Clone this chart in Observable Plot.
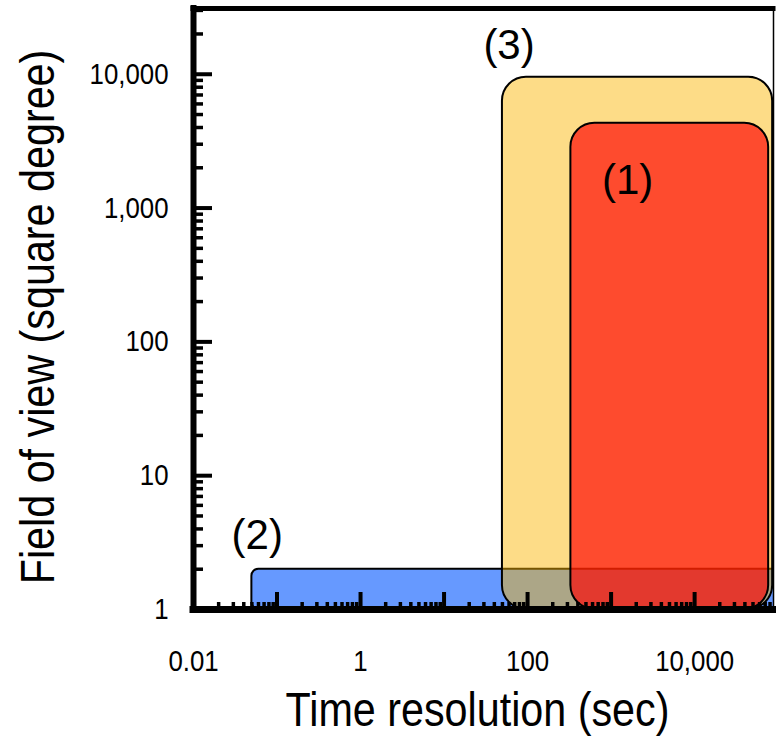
<!DOCTYPE html>
<html>
<head>
<meta charset="utf-8">
<script src="https://cdn.jsdelivr.net/npm/d3@7"></script>
<script src="https://cdn.jsdelivr.net/npm/@observablehq/plot@0.6"></script>
<style>
  body { margin: 0; background: #fff; }
</style>
</head>
<body>
<div id="chart"></div>
<script>
// ---- scale domains ----
const X_DOMAIN = [0.01, 88000];
const Y_DOMAIN = [1, 31000];

// ---- regions (drawn in this order) ----
const groups = ["(2)", "(3)", "(1)"];
const timeLo = [0.05, 50, 330];
const timeHi = [300000, 86000, 77000];
const fovLo = [1, 1, 1];
const fovHi = [2, 9500, 4300];
const fills = ["#6699ff", "#fbb400", "#ff0000"];
const fillOpacities = [1, 0.47, 0.66];
const cornerRadii = [7, 24, 24];

// ---- region labels ----
const labelNames = ["(3)", "(1)", "(2)"];
const labelTime = [60, 1580, 0.058];
const labelFov = [16500, 1610, 3.56];

// ---- ticks ----
const xTickValues = [0.01, 1, 100, 10000];
const xTickLabels = ["0.01", "1", "100", "10,000"];
const yTickValues = [1, 10, 100, 1000, 10000];
const yTickLabels = ["1", "10", "100", "1,000", "10,000"];
const xMajor = [0.01, 0.1, 1, 10, 100, 1000, 10000];
const yMajor = [1, 10, 100, 1000, 10000];
const minorMultipliers = [2, 3, 4, 5, 6, 7, 8, 9];
const xMinor = xMajor.flatMap(d => minorMultipliers.map(m => d * m)).filter(v => v <= X_DOMAIN[1]);
const yMinor = yMajor.flatMap(d => minorMultipliers.map(m => d * m)).filter(v => v <= Y_DOMAIN[1]);

const xTitle = "Time resolution (sec)";
const yTitle = "Field of view (square degree)";

const FONT = "'Liberation Sans', Arial, sans-serif";
const NARROW = 0.86; // horizontal condensing of axis texts

const regions = groups.map((g, i) => ({
  group: g, x1: timeLo[i], x2: timeHi[i], y1: fovLo[i], y2: fovHi[i],
  fill: fills[i], op: fillOpacities[i], rx: cornerRadii[i]
}));
const labels = labelNames.map((n, i) => ({name: n, x: labelTime[i], y: labelFov[i]}));

const rectMarks = regions.map(r => Plot.rect([r], {
  x1: "x1", x2: "x2", y1: "y1", y2: "y2",
  fill: r.fill, fillOpacity: r.op, stroke: "black", strokeWidth: 2,
  rx: r.rx, clip: true
}));

const chart = Plot.plot({
  width: 776,
  height: 736,
  marginLeft: 193,
  marginRight: 3,
  marginTop: 8,
  marginBottom: 127,
  style: {fontFamily: FONT, background: "white", color: "black", overflow: "visible"},
  x: {type: "log", domain: X_DOMAIN},
  y: {type: "log", domain: Y_DOMAIN},
  marks: [
    ...rectMarks,
    // tick labels
    Plot.axisX(xTickValues, {
      tickSize: 0, tickPadding: 40, fontSize: 30, label: null,
      tickFormat: d => xTickLabels[xTickValues.indexOf(d)]
    }),
    Plot.axisY(yTickValues, {
      tickSize: 0, tickPadding: 25, fontSize: 30, label: null,
      tickFormat: d => yTickLabels[yTickValues.indexOf(d)]
    }),
    // inward ticks
    Plot.axisX(xMajor, {tickSize: -17, strokeWidth: 4, strokeLinecap: "butt", text: null, label: null}),
    Plot.axisX(xMinor, {tickSize: -7, strokeWidth: 3.5, strokeLinecap: "butt", text: null, label: null}),
    Plot.axisY(yMajor, {tickSize: -19, strokeWidth: 4, strokeLinecap: "butt", text: null, label: null}),
    Plot.axisY(yMinor, {tickSize: -10, strokeWidth: 3.5, strokeLinecap: "butt", text: null, label: null}),
    // frame
    Plot.ruleX([X_DOMAIN[0]], {strokeWidth: 6, strokeLinecap: "square"}),
    Plot.ruleY([Y_DOMAIN[0]], {strokeWidth: 7, strokeLinecap: "square"}),
    Plot.ruleY([Y_DOMAIN[1]], {strokeWidth: 5, strokeLinecap: "square"}),
    Plot.ruleX([X_DOMAIN[1]], {strokeWidth: 1.5}),
    // region labels
    Plot.text(labels, {x: "x", y: "y", text: "name", fontSize: 42, fill: "black", className: "region-label"}),
    // axis titles
    Plot.text([xTitle], {text: d => d, frameAnchor: "bottom", textAnchor: "middle", lineAnchor: "middle",
      dy: 101, dx: -6, fontSize: 48, fill: "black"}),
    Plot.text([yTitle], {text: d => d, frameAnchor: "left", textAnchor: "middle", lineAnchor: "middle",
      rotate: -90, dx: -155, dy: 8, fontSize: 48, fill: "black"})
  ]
});

document.getElementById("chart").appendChild(chart);

// condense axis texts horizontally (narrow gothic look of the original)
d3.select(chart).selectAll("text").each(function() {
  if (this.closest(".region-label")) return;
  const len = this.getComputedTextLength();
  if (len > 0) {
    this.setAttribute("textLength", (len * NARROW).toFixed(2));
    this.setAttribute("lengthAdjust", "spacingAndGlyphs");
  }
});
</script>
</body>
</html>
